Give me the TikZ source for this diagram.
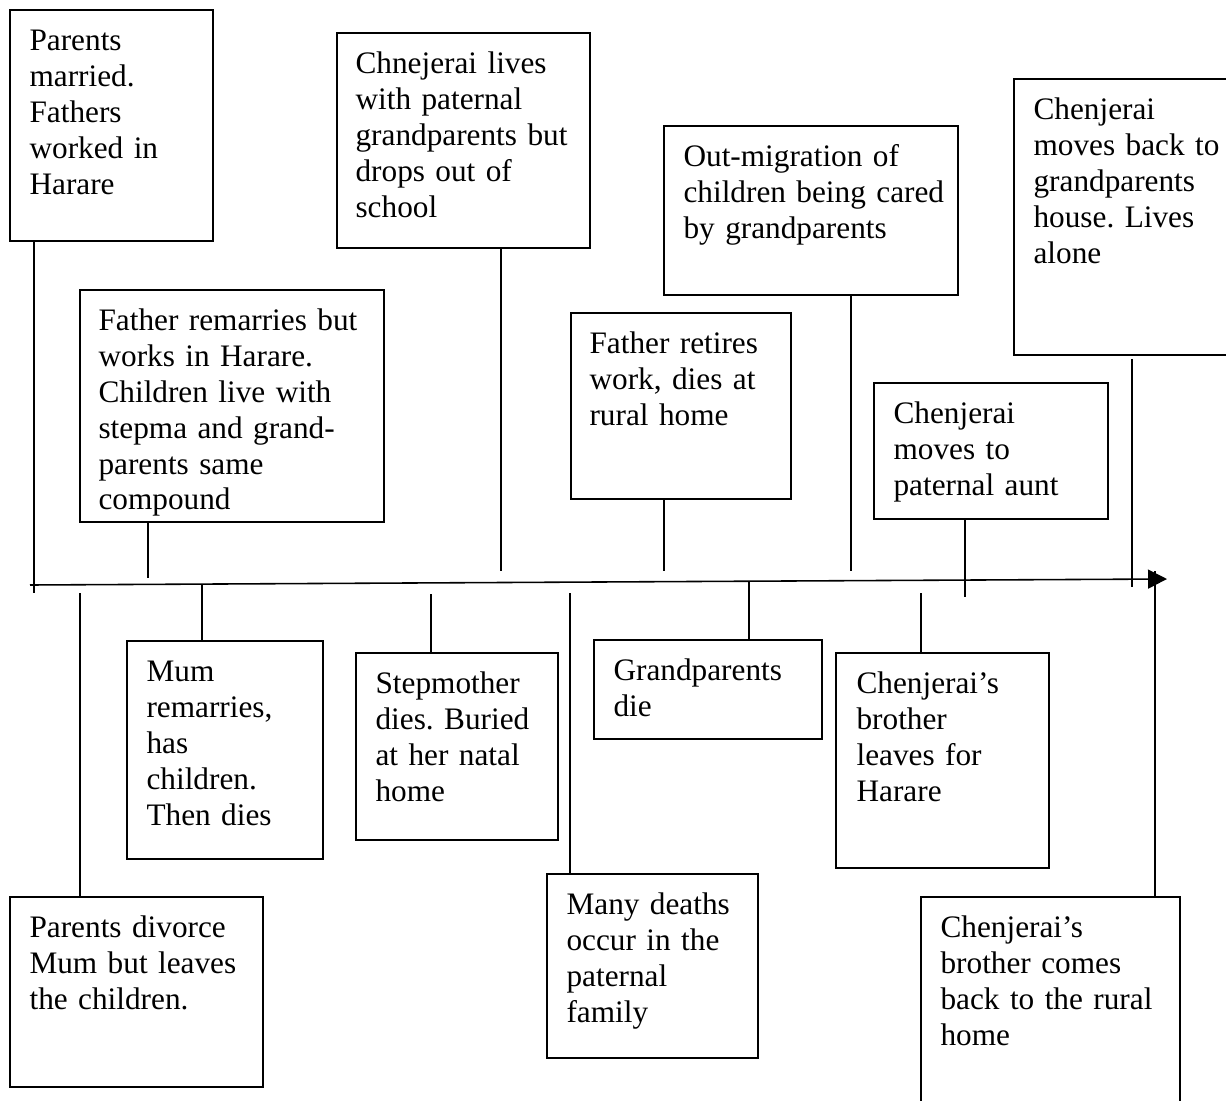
\documentclass[tikz,border=0pt]{standalone}
\usepackage{fontspec}
\setmainfont{Liberation Serif}
\usetikzlibrary{arrows.meta,fit,calc}
\setlength{\parindent}{0pt}
\frenchspacing
\begin{document}
\begin{tikzpicture}[x=0.02cm,y=-0.02cm,
  eventbox/.style={draw=black, line width=0.9pt, inner sep=0pt},
  eventtext/.style={anchor=north west, inner sep=0pt, text width=8cm, align=left,
    font=\fontsize{17.8}{20.4}\selectfont},
  link/.style={line width=0.9pt},
  timeline/.style={line width=0.9pt, -{Triangle[length=10.8pt,width=10.8pt]}}]

\useasboundingbox (0,0) rectangle (1226,1101);
\clip (0,0) rectangle (1226,1101);

% ---- events above the time line ----
\node[eventbox, fit={(10,10) (213,241)}] (a) {};
\node[eventtext] (a-t) at ($(a.north west)+(20,16)$)
  {\strut Parents\\married.\\Fathers\\worked in\\Harare};

\node[eventbox, fit={(80,290) (384,522)}] (b) {};
\node[eventtext] (b-t) at ($(b.north west)+(19,16)$)
  {\strut Father remarries but\\works in Harare.\\Children live with\\stepma and grand-\\parents same\\compound};

\node[eventbox, fit={(337,33) (590,248)}] (c) {};
\node[eventtext] (c-t) at ($(c.north west)+(19,16)$)
  {\strut Chnejerai lives\\with paternal\\grandparents but\\drops out of\\school};

\node[eventbox, fit={(664,126) (958,295)}] (d) {};
\node[eventtext] (d-t) at ($(d.north west)+(20,16)$)
  {\strut Out-migration of\\children being cared\\by grandparents};

\node[eventbox, fit={(571,313) (791,499)}] (e) {};
\node[eventtext] (e-t) at ($(e.north west)+(19,16)$)
  {\strut Father retires\\work, dies at\\rural home};

\node[eventbox, fit={(874,383) (1108,519)}] (f) {};
\node[eventtext] (f-t) at ($(f.north west)+(20,16)$)
  {\strut Chenjerai\\moves to\\paternal aunt};

\node[eventbox, fit={(1014,79) (1240,355)}] (g) {};
\node[eventtext] (g-t) at ($(g.north west)+(20,16)$)
  {\strut Chenjerai\\moves back to\\grandparents\\house. Lives\\alone};

% ---- events below the time line ----
\node[eventbox, fit={(127,641) (323,859)}] (h) {};
\node[eventtext] (h-t) at ($(h.north west)+(20,16)$)
  {\strut Mum\\remarries,\\has\\children.\\Then dies};

\node[eventbox, fit={(356,653) (558,840)}] (i) {};
\node[eventtext] (i-t) at ($(i.north west)+(20,16)$)
  {\strut Stepmother\\dies. Buried\\at her natal\\home};

\node[eventbox, fit={(594,640) (822,739)}] (j) {};
\node[eventtext] (j-t) at ($(j.north west)+(20,16)$)
  {\strut Grandparents\\die};

\node[eventbox, fit={(836,653) (1049,868)}] (k) {};
\node[eventtext] (k-t) at ($(k.north west)+(21,16)$)
  {\strut Chenjerai’s\\brother\\leaves for\\Harare};

\node[eventbox, fit={(10,897) (263,1087)}] (l) {};
\node[eventtext] (l-t) at ($(l.north west)+(20,16)$)
  {\strut Parents divorce\\Mum but leaves\\the children.};

\node[eventbox, fit={(547,874) (758,1058)}] (m) {};
\node[eventtext] (m-t) at ($(m.north west)+(20,16)$)
  {\strut Many deaths\\occur in the\\paternal\\family};

\node[eventbox, fit={(921,897) (1180,1120)}] (n) {};
\node[eventtext] (n-t) at ($(n.north west)+(20,16)$)
  {\strut Chenjerai’s\\brother comes\\back to the rural\\home};

% ---- time line ----
\coordinate (t0) at (30,585);
\coordinate (t1) at (1167,579);
\draw[timeline] (t0) -- (t1);

% ---- ticks from the upper events ----
\coordinate (a-e) at (34,593);
\coordinate (b-e) at (148,578);
\coordinate (c-e) at (501,571);
\coordinate (d-e) at (851,571);
\coordinate (e-e) at (664,571);
\coordinate (f-e) at (965,597);
\coordinate (g-e) at (1132,587);
\draw[link] (a.south -| a-e) -- (a-e);
\draw[link] (b.south -| b-e) -- (b-e);
\draw[link] (c.south -| c-e) -- (c-e);
\draw[link] (d.south -| d-e) -- (d-e);
\draw[link] (e.south -| e-e) -- (e-e);
\draw[link] (f.south -| f-e) -- (f-e);
\draw[link] ($(g.south -| g-e)+(0,3)$) -- (g-e);

% ---- ticks to the lower events ----
\coordinate (h-s) at (202,584);
\coordinate (i-s) at (431,594);
\coordinate (j-s) at (749,582);
\coordinate (k-s) at (921,593);
\coordinate (l-s) at (80,593);
\coordinate (m-s) at (570,593);
\coordinate (n-s) at (1155,571);
\draw[link] (h-s) -- (h.north -| h-s);
\draw[link] (i-s) -- (i.north -| i-s);
\draw[link] (j-s) -- (j.north -| j-s);
\draw[link] (k-s) -- (k.north -| k-s);
\draw[link] (l-s) -- (l.north -| l-s);
\draw[link] (m-s) -- (m.north -| m-s);
\draw[link] (n-s) -- (n.north -| n-s);

\end{tikzpicture}
\end{document}
